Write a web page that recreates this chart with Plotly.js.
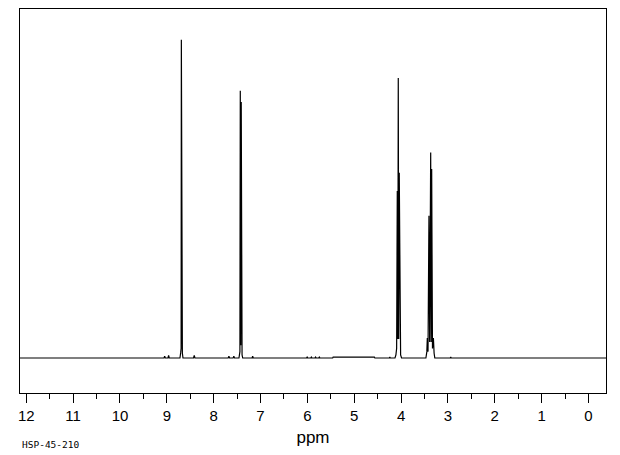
<!DOCTYPE html>
<html>
<head>
<meta charset="utf-8">
<script src="https://cdn.plot.ly/plotly-3.0.1.min.js"></script>
<style>
  html, body { margin: 0; padding: 0; background: #fff; }
  #chart { width: 620px; height: 455px; }
</style>
</head>
<body>
<div id="chart"></div>
<script>
// Chemical shift (ppm) and relative intensity (%)
const shiftPpm = [
  12.2, 9.06, 9.046, 9.032, 8.975, 8.962, 8.948,
  8.72, 8.705, 8.695, 8.690, 8.684, 8.676, 8.668, 8.655,
  8.43, 8.415, 8.40,
  7.69, 7.675, 7.66, 7.585, 7.57, 7.555,
  7.46, 7.448, 7.44, 7.432, 7.422, 7.412, 7.404, 7.394, 7.38,
  7.18, 7.168, 7.155,
  6.02, 6.005, 5.99, 5.93, 5.915, 5.90, 5.84, 5.825, 5.81, 5.76, 5.745, 5.73,
  5.46, 5.45, 4.57, 4.56,
  4.25, 4.24, 4.23,
  4.13, 4.11, 4.095, 4.081, 4.07, 4.060, 4.05, 4.039, 4.025, 4.01, 3.99,
  3.47, 3.45, 3.44, 3.425, 3.405, 3.39, 3.368, 3.358, 3.347, 3.33, 3.31, 3.295, 3.28,
  2.95, 2.94, 2.93,
  -0.5
];
const intensity = [
  0, 0, 0.6, 0, 0, 0.8, 0,
  0, 1.6, 3, 100, 6.6, 6.6, 1.5, 0,
  0, 0.8, 0,
  0, 0.6, 0, 0, 0.6, 0,
  0, 1.0, 2.0, 84.0, 4, 80.5, 2, 1.0, 0,
  0, 0.6, 0,
  0, 0.3, 0, 0, 0.3, 0, 0, 0.3, 0, 0, 0.3, 0,
  0, 0.3, 0.3, 0,
  0, 0.3, 0,
  0, 1.0, 3, 52.5, 6, 88.0, 6, 58.2, 3, 1, 0,
  0, 2, 6.3, 2, 44.7, 5, 64.6, 5, 59.4, 3, 6.3, 1.5, 0,
  0, 0.3, 0,
  0
];
const tickValues = [12, 11, 10, 9, 8, 7, 6, 5, 4, 3, 2, 1, 0];
const tickLabels = ["12", "11", "10", "9", "8", "7", "6", "5", "4", "3", "2", "1", "0"];
const axisLabel = "ppm";
const codeLabel = "HSP-45-210";

const trace = {
  x: shiftPpm,
  y: intensity,
  type: 'scatter',
  mode: 'lines',
  line: { color: '#000', width: 1.2, shape: 'linear' },
  hoverinfo: 'x+y'
};

const layout = {
  width: 620,
  height: 455,
  margin: { l: 20, r: 14, t: 9, b: 62 },
  paper_bgcolor: '#fff',
  plot_bgcolor: '#fff',
  showlegend: false,
  font: { family: 'Liberation Sans, Arial, sans-serif', color: '#000' },
  xaxis: {
    range: [12.134, -0.374],
    tickmode: 'array',
    tickvals: tickValues,
    ticktext: tickLabels,
    ticks: 'outside',
    ticklen: 9,
    tickwidth: 1,
    tickcolor: '#000',
    minor: { dtick: 0.5, ticks: 'outside', ticklen: 5, tickwidth: 1, tickcolor: '#000', showgrid: false },
    tickfont: { size: 15, color: '#000', family: 'Liberation Sans, Arial, sans-serif' },
    showline: true,
    mirror: true,
    linecolor: '#000',
    linewidth: 1,
    showgrid: false,
    zeroline: false,
    title: { text: axisLabel, font: { size: 17, color: '#000' }, standoff: 8 }
  },
  yaxis: {
    range: [-11.0, 109.7],
    showticklabels: false,
    ticks: '',
    showline: true,
    mirror: true,
    linecolor: '#000',
    linewidth: 1,
    showgrid: false,
    zeroline: false
  },
  annotations: [{
    text: codeLabel,
    xref: 'paper', yref: 'paper',
    x: 0, y: 0,
    xanchor: 'left', yanchor: 'middle',
    xshift: 0, yshift: -51,
    showarrow: false,
    font: { family: 'DejaVu Sans Mono, monospace', size: 9.5, color: '#000' }
  }]
};

Plotly.newPlot('chart', [trace], layout, { displayModeBar: false, staticPlot: true });
</script>
</body>
</html>
